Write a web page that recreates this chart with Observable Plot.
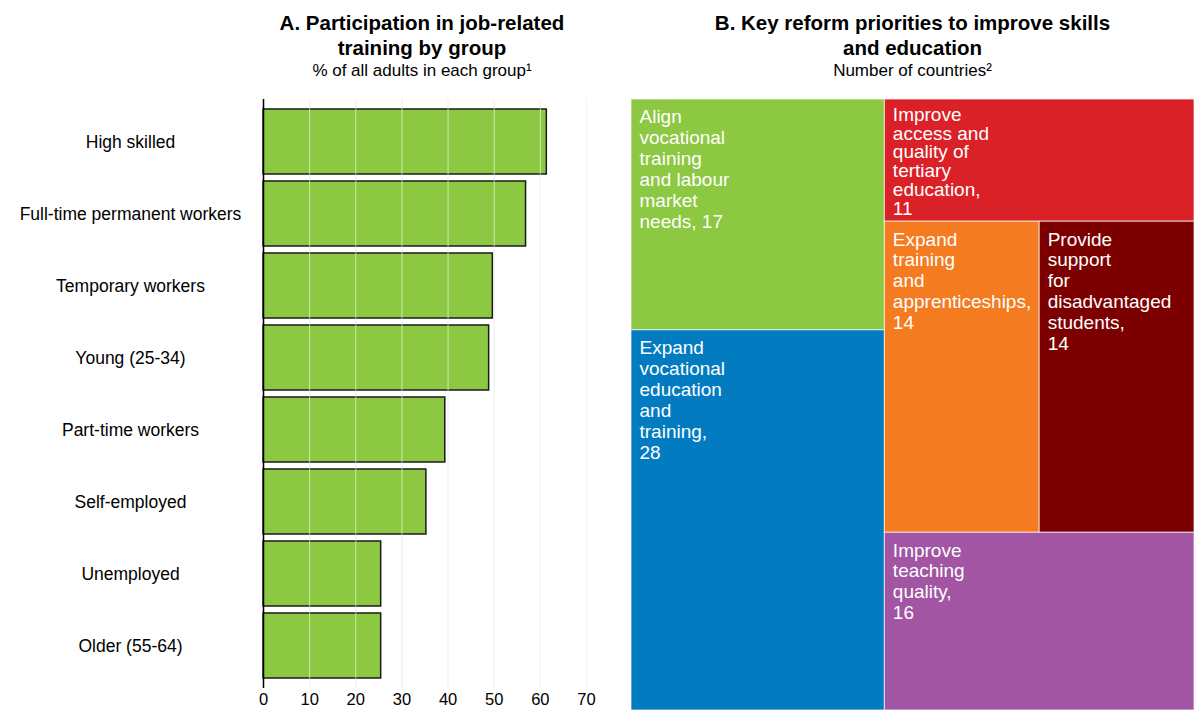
<!DOCTYPE html>
<html><head><meta charset="utf-8">
<script src="https://cdn.jsdelivr.net/npm/d3@7"></script>
<script src="https://cdn.jsdelivr.net/npm/@observablehq/plot@0.6"></script>
<style>
body{margin:0;background:#fff;font-family:"Liberation Sans",Arial,sans-serif;}
#root{position:relative;width:1194px;height:710px;overflow:hidden;}
.title{position:absolute;text-align:center;font-weight:bold;font-size:20.5px;line-height:25px;color:#000;white-space:nowrap;}
.sub{position:absolute;text-align:center;font-size:17px;line-height:20px;color:#000;white-space:nowrap;}
#left,#right{position:absolute;top:90px;}
#left{left:0}#right{left:620px}
</style></head><body>
<div id="root">
<div class="title" style="left:260px;width:324px;top:10px">A. Participation in job-related<br>training by group</div>
<div class="sub" style="left:260px;width:324px;top:61px">% of all adults in each group¹</div>
<div class="title" style="left:631px;width:563px;top:10px">B. Key reform priorities to improve skills<br>and education</div>
<div class="sub" style="left:631px;width:563px;top:61px">Number of countries²</div>
<div id="left"></div><div id="right"></div>
</div>
<script>
// Panel A data
const groups = ["High skilled", "Full-time permanent workers", "Temporary workers", "Young (25-34)", "Part-time workers", "Self-employed", "Unemployed", "Older (55-64)"];
const participation = [61.4, 56.9, 49.7, 48.9, 39.4, 35.3, 25.5, 25.5];
const xTicks = [0, 10, 20, 30, 40, 50, 60, 70];

// Panel B data
const priorities = [
  "Align\nvocational\ntraining\nand labour\nmarket\nneeds, 17",
  "Expand\nvocational\neducation\nand\ntraining,\n28",
  "Improve\naccess and\nquality of\ntertiary\neducation,\n11",
  "Expand\ntraining\nand\napprenticeships,\n14",
  "Provide\nsupport\nfor\ndisadvantaged\nstudents,\n14",
  "Improve\nteaching\nquality,\n16"
];
const countries = [17, 28, 11, 14, 14, 16];
const columns = ["c1", "c1", "c2", "c2", "c2", "c2"];
const rows = ["r1", "r2", "r3", "r4", "r4", "r5"];
const tileColors = ["#8cc841", "#037bc1", "#da2128", "#f47b20", "#7d0000", "#a155a2"];

const font = "Liberation Sans, Arial, sans-serif";

// Panel A
const barData = groups.map((g, i) => ({group: g, value: participation[i]}));
const left = Plot.plot({
  width: 620, height: 620,
  marginLeft: 263, marginRight: 34, marginTop: 9, marginBottom: 22,
  style: {fontFamily: font, fontSize: "17px", color: "#000", background: "transparent"},
  x: {domain: [0, 70]},
  y: {domain: groups, paddingInner: 0.1, paddingOuter: 0.14},
  marks: [
    Plot.gridX(xTicks, {stroke: "#e4e4e4", strokeOpacity: 1}),
    Plot.barX(barData, {x: "value", y: "group", fill: "#8cc841", stroke: "#1a1a1a", strokeWidth: 1.5}),
    Plot.gridX(xTicks, {stroke: "white", strokeOpacity: 0.6}),
    Plot.ruleX([0], {stroke: "black", strokeWidth: 1.5}),
    Plot.axisX(xTicks, {tickSize: 0, tickPadding: 5, fontSize: 16.5, label: null}),
    Plot.axisY({tickSize: 0, tickPadding: 133, textAnchor: "middle", fontSize: 17.5, label: null})
  ]
});
document.getElementById("left").appendChild(left);

// Panel B treemap
const tiles = priorities.map((p, i) => ({label: p, value: countries[i], column: columns[i], row: rows[i], color: tileColors[i]}));
const root = d3.hierarchy(d3.group(tiles, d => d.column, d => d.row)).sum(d => d.value);
d3.treemap().tile(d3.treemapSliceDice).size([1, 1]).round(false)(root);
const leaves = root.leaves();
const tall = leaves.filter(d => d.y1 - d.y0 > 0.25);
const short = leaves.filter(d => d.y1 - d.y0 <= 0.25);
const labelOpts = {x: d => d.x0, y: d => d.y0, text: d => d.data.label, textAnchor: "start", lineAnchor: "top", dx: 8, dy: 9, fill: "white", fontSize: 19};
const right = Plot.plot({
  width: 574, height: 620,
  marginLeft: 11, marginRight: 0, marginTop: 9, marginBottom: 0,
  style: {fontFamily: font, fontSize: "19px", background: "transparent"},
  x: {domain: [0, 1], axis: null},
  y: {domain: [0, 1], reverse: true, axis: null},
  marks: [
    Plot.rect(leaves, {x1: d => d.x0, x2: d => d.x1, y1: d => d.y0, y2: d => d.y1, fill: d => d.data.color, stroke: "white", strokeWidth: 1, strokeOpacity: 0.7}),
    Plot.text(tall, {...labelOpts, lineHeight: 1.1}),
    Plot.text(short, {...labelOpts, lineHeight: 0.99, dy: 8})
  ]
});
document.getElementById("right").appendChild(right);
</script>
</body></html>
